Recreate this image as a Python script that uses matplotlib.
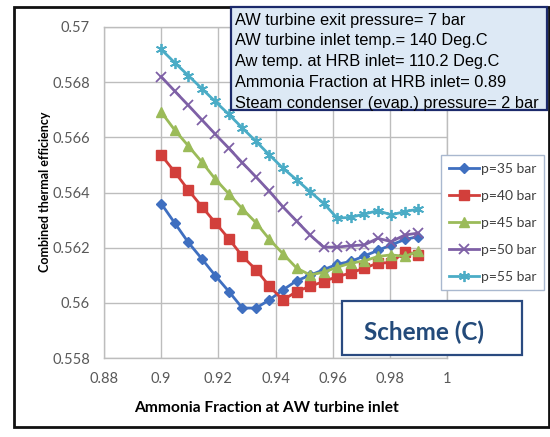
import matplotlib.pyplot as plt
from matplotlib.patches import Rectangle

# ammonia fraction at AW turbine inlet
frac = [0.9, 0.9047, 0.9095, 0.9142, 0.9189, 0.9237, 0.9284, 0.9332, 0.9379, 0.9426,
        0.9474, 0.9521, 0.9568, 0.9616, 0.9663, 0.9711, 0.9758, 0.9805, 0.9853, 0.99]

# combined thermal efficiency for each turbine inlet pressure
eff_35 = [0.5636, 0.5629, 0.56219, 0.5616, 0.56099, 0.56041, 0.55981, 0.55981, 0.56011, 0.56047,
          0.5608, 0.5610, 0.5612, 0.5614, 0.5615, 0.5617, 0.5619, 0.5621, 0.5623, 0.5624]
eff_40 = [0.56536, 0.56475, 0.56409, 0.56349, 0.56291, 0.56232, 0.56169, 0.5612, 0.5606, 0.5601,
          0.56041, 0.5606, 0.56077, 0.56095, 0.56108, 0.56126, 0.56144, 0.56146, 0.56186, 0.56174]
eff_45 = [0.56692, 0.56627, 0.56569, 0.56511, 0.56449, 0.56395, 0.56341, 0.5629, 0.5623, 0.56178,
          0.56126, 0.56101, 0.56111, 0.56129, 0.56144, 0.56152, 0.56168, 0.56174, 0.56168, 0.56188]
eff_50 = [0.5682, 0.56768, 0.56716, 0.56664, 0.56612, 0.5656, 0.56508, 0.56456, 0.56404, 0.56348,
          0.56296, 0.56246, 0.56202, 0.56202, 0.56207, 0.5621, 0.56234, 0.56222, 0.56246, 0.56253]
eff_55 = [0.56919, 0.56871, 0.56824, 0.56777, 0.5673, 0.56683, 0.56634, 0.56585, 0.56536, 0.56488,
          0.56446, 0.56403, 0.56361, 0.56307, 0.5631, 0.56322, 0.56334, 0.56319, 0.56331, 0.5634]

labels = ["p=35 bar", "p=40 bar", "p=45 bar", "p=50 bar", "p=55 bar"]

x_ticks = [0.88, 0.9, 0.92, 0.94, 0.96, 0.98, 1.0]
x_ticklabels = ["0.88", "0.9", "0.92", "0.94", "0.96", "0.98", "1"]
y_ticks = [0.558, 0.56, 0.562, 0.564, 0.566, 0.568, 0.57]
y_ticklabels = ["0.558", "0.56", "0.562", "0.564", "0.566", "0.568", "0.57"]

info_lines = ["AW turbine exit pressure= 7 bar",
              "AW turbine inlet temp.= 140 Deg.C",
              "Aw temp. at HRB inlet= 110.2 Deg.C",
              "Ammonia Fraction at HRB inlet= 0.89",
              "Steam condenser (evap.) pressure= 2 bar"]

plt.rcParams['font.family'] = ['Lato', 'DejaVu Sans']

fig = plt.figure(figsize=(5.5, 4.37), dpi=100)
ax = fig.add_axes([104 / 550, 1 - 358 / 437, 343 / 550, 331 / 437])

styles = [
    dict(color="#3f6fc0", marker="D", ms=5.5),
    dict(color="#d23f3b", marker="s", ms=7),
    dict(color="#9bbb59", marker="^", ms=7.5),
    dict(color="#7e60a6", marker="x", ms=7, mew=1.3),
    dict(color="#4bacc6", marker=(6, 2, 0), ms=8, mew=1.3),
]
series = [eff_35, eff_40, eff_45, eff_50, eff_55]
for vals, lab, st in zip(series, labels, styles):
    ax.plot(frac, vals, lw=2, label=lab, **st)

ax.set_xlim(0.88, 1.0)
ax.set_ylim(0.558, 0.57)
ax.set_xticks(x_ticks)
ax.set_xticklabels(x_ticklabels)
ax.set_yticks(y_ticks)
ax.set_yticklabels(y_ticklabels)
ax.grid(True, color="#bdbdbd", lw=1)
ax.set_axisbelow(True)
for s in ax.spines.values():
    s.set_color("#bdbdbd")
    s.set_linewidth(1)
ax.tick_params(length=0, labelsize=10.5, colors="#595959", pad=10)

fig.text(266 / 550, 1 - 408 / 437, "Ammonia Fraction at AW turbine inlet",
         ha="center", va="center", fontsize=11.2, fontweight="bold")
fig.text(45 / 550, 1 - 192 / 437, "Combined thermal efficiency", rotation=90,
         ha="center", va="center", fontsize=9, fontweight="bold")

leg = ax.legend(loc="upper left", bbox_to_anchor=(441 / 550, 1 - 155 / 437),
                bbox_transform=fig.transFigure, fancybox=False, framealpha=1,
                edgecolor="#a9b8cf", fontsize=10, handlelength=2.2,
                labelspacing=1.08, handletextpad=0.15, borderpad=0.55, borderaxespad=0)
for t in leg.get_texts():
    t.set_color("#404040")

# parameter box
fig.patches.append(Rectangle((231 / 550, 1 - 110 / 437), 316 / 550, 103 / 437,
                             transform=fig.transFigure, facecolor="#dde9f5",
                             edgecolor="#1c2a6b", lw=1.6, zorder=5))
for i, line in enumerate(info_lines):
    fig.text(235 / 550, 1 - (20 + 20.8 * i) / 437, line, ha="left", va="center",
             fontsize=11.8, family=["Liberation Sans", "DejaVu Sans"], zorder=6)

# scheme label box
fig.patches.append(Rectangle((342 / 550, 1 - 355 / 437), 180 / 550, 54 / 437,
                             transform=fig.transFigure, facecolor="white",
                             edgecolor="#2a4a80", lw=1.6, zorder=5))
fig.text(424 / 550, 1 - 332 / 437, "Scheme (C)", ha="center", va="center",
         fontsize=17.5, fontweight="bold", color="#234a7a", zorder=6)

# outer frame
fig.patches.append(Rectangle((14 / 550, 1 - 427 / 437), 535 / 550, 420 / 437,
                             transform=fig.transFigure, fill=False,
                             edgecolor="#111111", lw=2, zorder=4))

fig.savefig("out.png", dpi=100)
